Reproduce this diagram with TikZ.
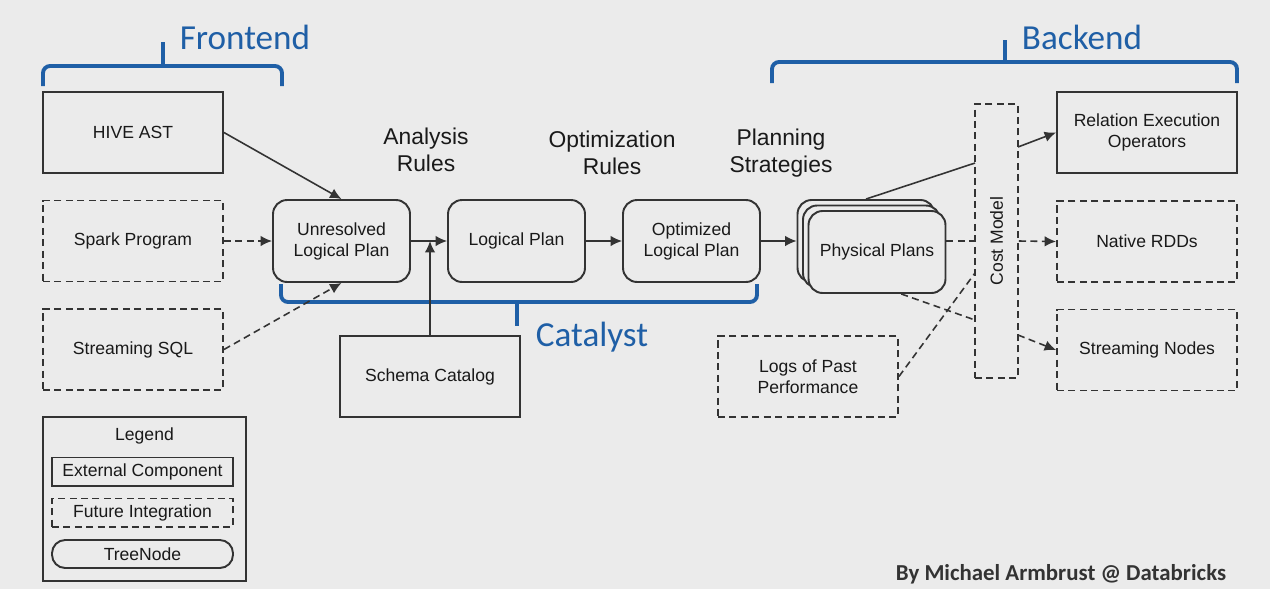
\documentclass[tikz,border=0pt]{standalone}
\usepackage{fontspec}
\setmainfont{Liberation Sans}
\newfontfamily\calfont{Carlito}
\usepackage{tikz}
\usetikzlibrary{arrows.meta}

\definecolor{bgcol}{HTML}{EBEBEB}
\definecolor{boxline}{HTML}{333333}
\definecolor{catblue}{HTML}{1F5FA6}

\begin{document}
\begin{tikzpicture}[x=0.02cm, y=-0.02cm, >={Latex[length=6.5pt, width=6pt]},
	extbox/.style={draw=boxline, line width=1.1pt, minimum width=3.6cm, minimum height=1.62cm, align=center, text=black!90, font=\fontsize{10}{12}\selectfont},
	futbox/.style={extbox, dash pattern=on 4pt off 2.5pt},
	treebox/.style={extbox, rounded corners=8pt, minimum width=2.74cm, minimum height=1.64cm},
	flow/.style={->, line width=0.9pt, draw=boxline},
	dflow/.style={flow, dash pattern=on 4pt off 2.5pt},
	bluebrace/.style={draw=catblue, line width=2.2pt, rounded corners=4pt},
	bigtitle/.style={text=catblue, font=\calfont\fontsize{20}{24}\selectfont},
	rulelabel/.style={align=center, text=black!90, font=\fontsize{13}{15}\selectfont}]

	\fill[bgcol] (0,0) rectangle (1270,589);
	\useasboundingbox (0,0) rectangle (1270,589);

	\node[extbox] (hive) at (133,132.5) {HIVE AST};
	\node[futbox] (spark) at (133,241) {Spark Program};
	\node[futbox] (ssql) at (133,349.5) {Streaming SQL};

	\node[treebox] (unres) at (341.5,241) {Unresolved\\Logical Plan};
	\node[treebox] (logical) at (516.5,241) {Logical Plan};
	\node[treebox] (optim) at (691.5,241) {Optimized\\Logical Plan};
	\node[treebox, fill=bgcol] (physA) at (866,241) {};
	\node[treebox, fill=bgcol] (physB) at (871.5,246.5) {};
	\node[treebox, fill=bgcol] (physC) at (877,252) {Physical Plans};

	\node[extbox] (schema) at (430,376.5) {Schema Catalog};
	\node[futbox] (logs) at (808,376.5) {Logs of Past\\Performance};

	\node[futbox, minimum width=0.86cm, minimum height=5.48cm] (cost) at (996.5,241) {};
	\node[rotate=90, text=black!90, font=\fontsize{10}{12}\selectfont] (costlbl) at (cost) {Cost Model};

	\node[extbox] (relop) at (1147,132.5) {Relation Execution\\Operators};
	\node[futbox] (rdd) at (1147,241.5) {Native RDDs};
	\node[futbox] (snodes) at (1147,350) {Streaming Nodes};

	\node[rulelabel] (analysis) at (426,150) {Analysis\\Rules};
	\node[rulelabel] (optrules) at (612,153) {Optimization\\Rules};
	\node[rulelabel] (planning) at (781,153) {Planning\\Strategies};

	\node[extbox, minimum width=4.06cm, minimum height=3.28cm] (legend) at (144.5,499) {};
	\node[text=black!90, font=\fontsize{10}{12}\selectfont] (legtitle) at (144.5,436) {Legend};
	\node[extbox, minimum width=3.62cm, minimum height=0.54cm] (legext) at (142.5,471.5) {External Component};
	\node[futbox, minimum width=3.62cm, minimum height=0.54cm] (legfut) at (142.5,512.5) {Future Integration};
	\node[extbox, rounded corners=7.5pt, minimum width=3.62cm, minimum height=0.56cm] (legtree) at (142.5,554) {TreeNode};

	\node[bigtitle] (frontend) at (245,37) {Frontend};
	\node[bigtitle] (backend) at (1082,37) {Backend};
	\node[bigtitle] (catalyst) at (592,337) {Catalyst};
	\node[text=black!80, font=\calfont\bfseries\fontsize{13}{15}\selectfont] (credit) at (1061,574) {By Michael Armbrust @ Databricks};

	\draw[bluebrace] (43,86) -- (43,66) -- (282,66) -- (282,86);
	\draw[bluebrace] (163,66) -- (163,42);
	\draw[bluebrace] (772,83) -- (772,62) -- (1237,62) -- (1237,83);
	\draw[bluebrace] (1005,62) -- (1005,40);
	\draw[bluebrace] (281,284) -- (281,302) -- (757,302) -- (757,284);
	\draw[bluebrace] (517,302) -- (517,326);

	\coordinate (cin1) at (975,163);
	\coordinate (cout1) at (1018,147);
	\coordinate (cin3) at (975,320);
	\coordinate (cout3) at (1018,335);
	\coordinate (cin4) at (975,273);

	\draw[flow] (hive.east) -- (unres.north);
	\draw[dflow] (spark.east) -- (unres.west);
	\draw[dflow] (ssql.east) -- (unres.south);
	\draw[flow] (unres) -- (logical);
	\draw[flow] (schema.north) -- (schema.north |- unres.east);
	\draw[flow] (logical) -- (optim);
	\draw[flow] (optim.east) -- (physA.west);

	\draw[flow, -] (physA.north) -- (cin1);
	\draw[flow] (cout1) -- (relop.west);
	\draw[dflow, -] (physC.east |- cost.west) -- (cost.west);
	\draw[dflow] (cost.east) -- (rdd.west);
	\draw[dflow, -] (physC.300) -- (cin3);
	\draw[dflow] (cout3) -- (snodes.west);
	\draw[dflow, -] (logs.east) -- (cin4);
\end{tikzpicture}
\end{document}
